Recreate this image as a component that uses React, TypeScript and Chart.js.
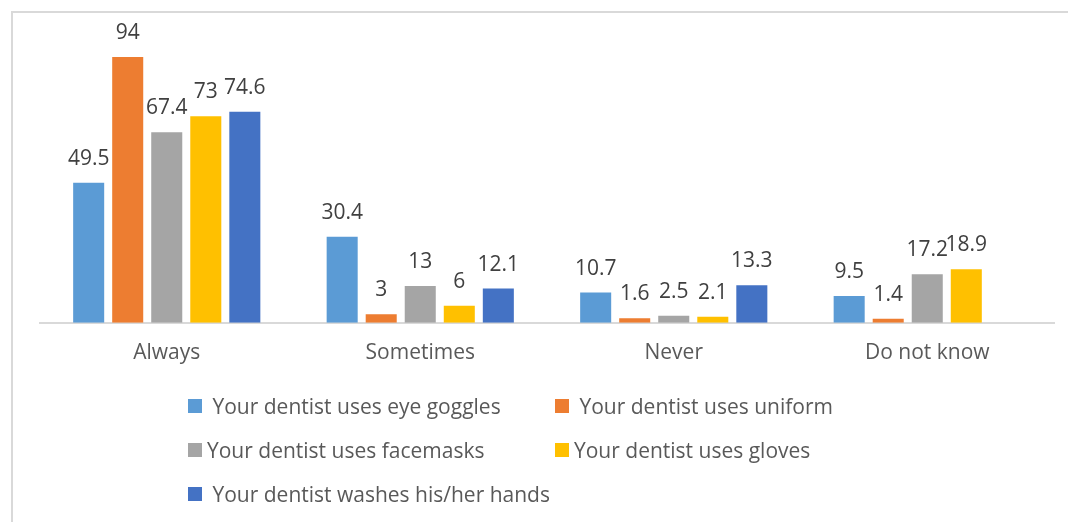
import React, { useEffect, useRef } from "react";
import { Chart, registerables } from "chart.js";

Chart.register(...registerables);

const categories = ["Always", "Sometimes", "Never", "Do not know"];
const seriesNames = [
  " Your dentist uses eye goggles",
  " Your dentist uses uniform",
  "Your dentist uses facemasks",
  "Your dentist uses gloves",
  " Your dentist washes his/her hands",
];
const eyeGoggles = [49.5, 30.4, 10.7, 9.5];
const uniform = [94, 3, 1.6, 1.4];
const facemasks = [67.4, 13, 2.5, 17.2];
const gloves = [73, 6, 2.1, 18.9];
const washesHands: (number | null)[] = [74.6, 12.1, 13.3, null];
const seriesColors = ["#5B9BD5", "#ED7D31", "#A5A5A5", "#FFC000", "#4472C4"];

const FONT = "'Open Sans', 'Noto Sans', sans-serif";

// legend layout: two columns, three rows
const legendSlots = [
  { left: 188, top: 406 },
  { left: 555, top: 406 },
  { left: 188, top: 450 },
  { left: 555, top: 450 },
  { left: 188, top: 494 },
];

const valueLabels = {
  id: "valueLabels",
  afterDatasetsDraw(chart: any) {
    const ctx = chart.ctx;
    ctx.save();
    ctx.font = `21px ${FONT}`;
    ctx.fillStyle = "#404040";
    ctx.textAlign = "center";
    ctx.textBaseline = "middle";
    chart.data.datasets.forEach((ds: any, di: number) => {
      const meta = chart.getDatasetMeta(di);
      meta.data.forEach((el: any, i: number) => {
        const v = ds.data[i];
        if (v === null || v === undefined) return;
        ctx.fillText(String(v), el.x, el.y - 24);
      });
    });
    ctx.restore();
  },
};

export default function App() {
  const canvasRef = useRef<HTMLCanvasElement | null>(null);

  useEffect(() => {
    if (!canvasRef.current) return;
    const allSeries = [eyeGoggles, uniform, facemasks, gloves, washesHands];
    const chart = new Chart(canvasRef.current, {
      type: "bar",
      data: {
        labels: categories,
        datasets: allSeries.map((d, i) => ({
          label: seriesNames[i],
          data: d,
          backgroundColor: seriesColors[i],
          borderWidth: 0,
          barPercentage: 0.795,
          categoryPercentage: 0.77,
        })),
      },
      options: {
        responsive: false,
        animation: false,
        layout: { padding: { left: 40, right: 14, top: 40, bottom: 138 } },
        plugins: {
          legend: { display: false },
          tooltip: { enabled: false },
        },
        scales: {
          x: {
            grid: { display: false, drawTicks: false },
            border: { display: true, color: "#D9D9D9", width: 2 },
            ticks: {
              color: "#595959",
              font: { family: FONT, size: 21 },
              padding: 18,
            },
          },
          y: {
            display: false,
            min: 0,
            max: 100,
          },
        },
      },
      plugins: [valueLabels],
    });
    return () => chart.destroy();
  }, []);

  return (
    <div
      style={{
        position: "absolute",
        left: 0,
        top: 0,
        width: 1068,
        height: 522,
        background: "#fff",
        overflow: "hidden",
      }}
    >
      <div
        style={{
          position: "absolute",
          left: 11,
          top: 11,
          width: 1057,
          height: 511,
          borderLeft: "2px solid #D9D9D9",
          borderTop: "2px solid #D9D9D9",
          boxSizing: "border-box",
        }}
      />
      <canvas
        ref={canvasRef}
        width={1068}
        height={522}
        style={{ position: "absolute", left: 0, top: 0 }}
      />
      {seriesNames.map((name, i) => (
        <div
          key={i}
          style={{
            position: "absolute",
            left: legendSlots[i].left,
            top: legendSlots[i].top - 14,
            height: 28,
            display: "flex",
            alignItems: "center",
            fontFamily: FONT,
            fontSize: 21,
            color: "#595959",
            whiteSpace: "pre",
          }}
        >
          <span
            style={{
              display: "inline-block",
              width: 14,
              height: 14,
              background: seriesColors[i],
              marginRight: 5,
            }}
          />
          {name}
        </div>
      ))}
    </div>
  );
}
